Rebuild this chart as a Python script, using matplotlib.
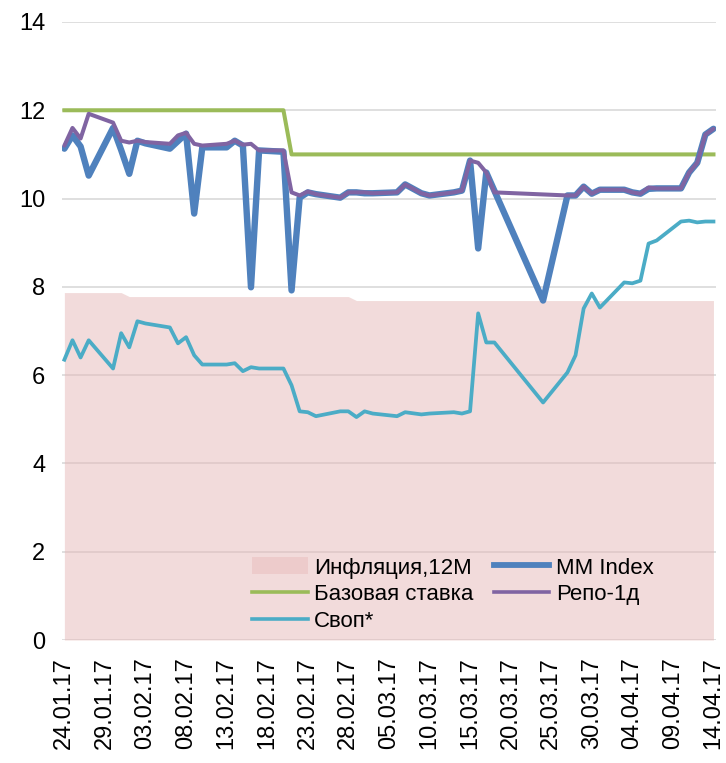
import numpy as np
import pandas as pd
import matplotlib
matplotlib.use('Agg')
import matplotlib.pyplot as plt
import matplotlib.dates as mdates
from matplotlib.patches import Patch
from matplotlib.lines import Line2D

plt.rcParams['font.family'] = ['Liberation Sans Narrow', 'Liberation Sans', 'DejaVu Sans']

# Trading days (KZ calendar, 18.03 was a working Saturday)
dates = ['24.01.17', '25.01.17', '26.01.17', '27.01.17', '30.01.17', '31.01.17',
         '01.02.17', '02.02.17', '03.02.17', '06.02.17', '07.02.17', '08.02.17',
         '09.02.17', '10.02.17', '13.02.17', '14.02.17', '15.02.17', '16.02.17',
         '17.02.17', '20.02.17', '21.02.17', '22.02.17', '23.02.17', '24.02.17',
         '27.02.17', '28.02.17', '01.03.17', '02.03.17', '03.03.17', '06.03.17',
         '07.03.17', '09.03.17', '10.03.17', '13.03.17', '14.03.17', '15.03.17',
         '16.03.17', '17.03.17', '18.03.17', '24.03.17', '27.03.17', '28.03.17',
         '29.03.17', '30.03.17', '31.03.17', '03.04.17', '04.04.17', '05.04.17',
         '06.04.17', '07.04.17', '10.04.17', '11.04.17', '12.04.17', '13.04.17',
         '14.04.17']

mm_index = [11.13, 11.43, 11.18, 10.52, 11.60, 11.10,
            10.56, 11.31, 11.25, 11.13, 11.30, 11.47,
            9.66, 11.16, 11.16, 11.31, 11.20, 7.99,
            11.09, 11.06, 7.92, 10.02, 10.14, 10.10,
            10.02, 10.14, 10.14, 10.12, 10.12, 10.14,
            10.32, 10.12, 10.07, 10.14, 10.18, 10.86,
            8.87, 10.59, None, 7.69, 10.07, 10.07,
            10.27, 10.11, 10.20, 10.20, 10.14, 10.11,
            10.22, 10.23, 10.23, 10.59, 10.81, 11.45,
            11.58]

repo = [11.20, 11.60, 11.36, 11.92, 11.72, 11.31,
        11.27, 11.31, 11.28, 11.24, 11.43, 11.49,
        11.24, 11.20, 11.24, 11.31, 11.22, 11.24,
        11.09, 11.09, 10.14, 10.07, 10.16, 10.10,
        10.02, 10.14, 10.14, 10.14, 10.12, 10.14,
        10.32, 10.12, 10.07, 10.14, 10.18, 10.86,
        10.81, 10.59, 10.14, None, 10.07, 10.07,
        10.27, 10.11, 10.20, 10.20, 10.14, 10.11,
        10.25, 10.23, 10.23, 10.59, 10.81, 11.45,
        11.58]

swap = [6.35, 6.79, 6.40, 6.79, 6.15, 6.95,
        6.63, 7.22, 7.17, 7.08, 6.72, 6.86,
        6.45, 6.24, 6.24, 6.27, 6.09, 6.18,
        6.15, 6.15, 5.77, 5.18, 5.16, 5.07,
        5.18, 5.18, 5.05, 5.18, 5.13, 5.07,
        5.16, 5.11, 5.13, 5.16, 5.13, 5.18,
        7.40, 6.74, 6.74, 5.38, 6.06, 6.45,
        7.51, 7.85, 7.53, 8.10, 8.08, 8.14,
        8.98, 9.05, 9.48, 9.50, 9.46, 9.48,
        9.48]

base_rate = [12.0] * 20 + [11.0] * 35

inflation = [7.87] * 6 + [7.78] * 20 + [7.69] * 29

tick_labels = ['24.01.17', '29.01.17', '03.02.17', '08.02.17', '13.02.17', '18.02.17',
               '23.02.17', '28.02.17', '05.03.17', '10.03.17', '15.03.17', '20.03.17',
               '25.03.17', '30.03.17', '04.04.17', '09.04.17', '14.04.17']

x = pd.to_datetime(dates, format='%d.%m.%y')
ticks = pd.to_datetime(tick_labels, format='%d.%m.%y')


def series(vals):
    v = np.array([np.nan if a is None else a for a in vals], dtype=float)
    m = ~np.isnan(v)
    return x[m], v[m]


fig = plt.figure(figsize=(7.26, 7.63), dpi=100)
ax = fig.add_axes([0.0854, 0.1612, 0.9006, 0.81])

ax.fill_between(x, 0, inflation, color='#E6B9B8', alpha=0.5, lw=0, zorder=1)
ax.plot(x, base_rate, color='#9BBB59', lw=2.9, zorder=2)
ax.plot(*series(swap), color='#4BACC6', lw=2.7, zorder=3)
ax.plot(*series(mm_index), color='#4F81BD', lw=4.6, zorder=4,
        solid_joinstyle='round', solid_capstyle='round')
ax.plot(*series(repo), color='#8064A2', lw=2.9, zorder=5,
        solid_joinstyle='round', solid_capstyle='round')

ax.set_ylim(0, 14)
ax.set_yticks(range(0, 15, 2))
ax.set_xlim(x[0] - pd.Timedelta(hours=7), x[-1] + pd.Timedelta(hours=7))
ax.set_xticks(ticks)
ax.set_xticklabels(tick_labels, rotation=90)
ax.yaxis.grid(True, color='#D9D9D9', lw=1.2)
ax.set_axisbelow(True)
for s in ax.spines.values():
    s.set_visible(False)
ax.tick_params(axis='both', length=0, labelsize=17, colors='black')
ax.tick_params(axis='y', pad=12)
ax.tick_params(axis='x', pad=12)

handles = [Patch(facecolor='#EDCBCB', edgecolor='none'),
           Line2D([], [], color='#9BBB59', lw=2.6),
           Line2D([], [], color='#4BACC6', lw=2.6),
           Line2D([], [], color='#4F81BD', lw=4.2),
           Line2D([], [], color='#8064A2', lw=2.6)]
labels = ['Инфляция,12M', 'Базовая ставка', 'Своп*', 'MM Index', 'Репо-1д']
ax.legend(handles, labels, ncol=2, frameon=False, fontsize=16,
          loc='upper left', bbox_to_anchor=(0.267, 0.159),
          handlelength=2.5, handleheight=0.8, handletextpad=0.3,
          columnspacing=0.9, labelspacing=0.25, borderpad=0.2)

fig.savefig('out.png', dpi=100)
